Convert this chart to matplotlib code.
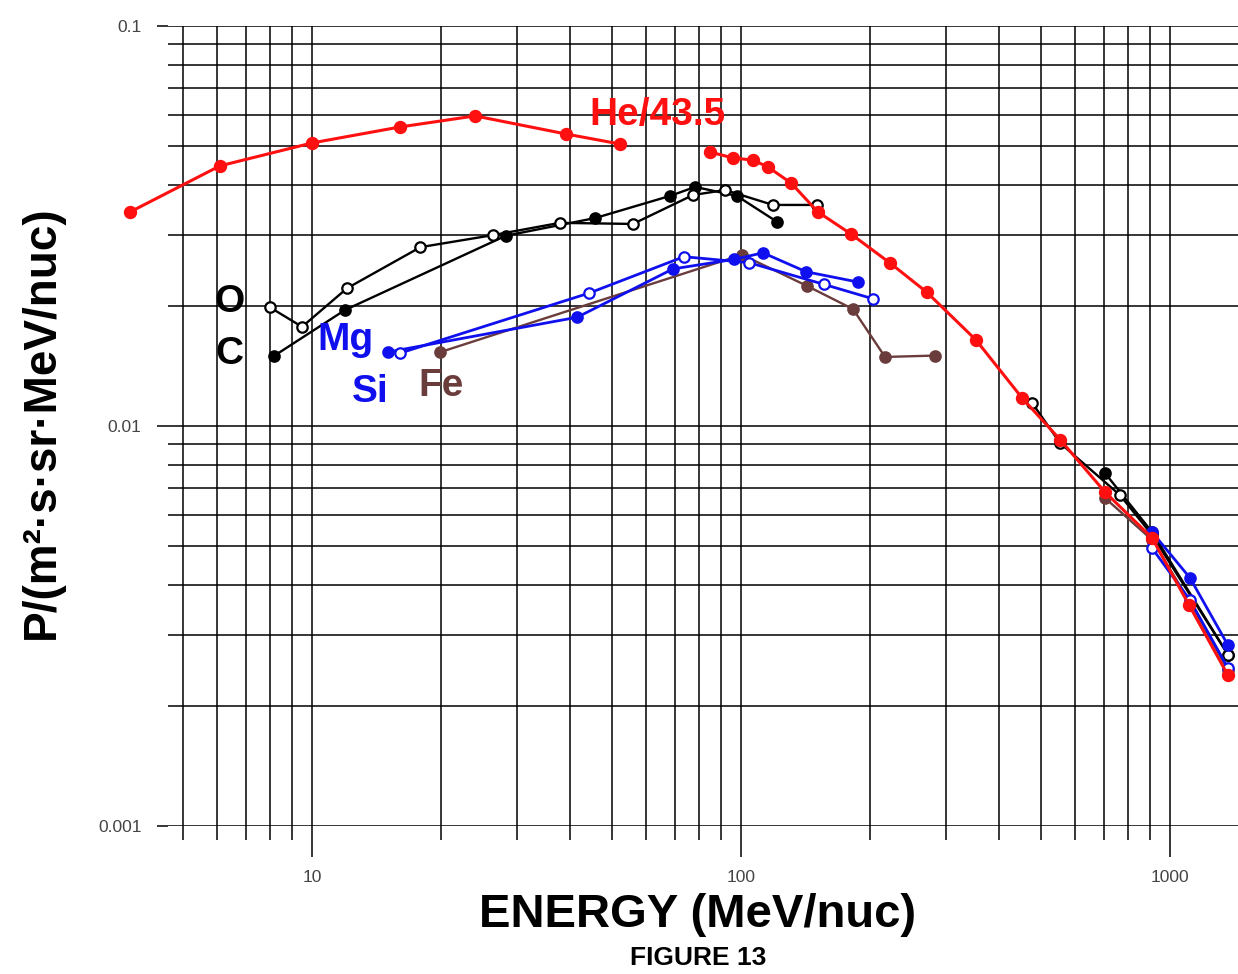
import matplotlib
matplotlib.use("Agg")
import matplotlib.pyplot as plt
from matplotlib.ticker import LogLocator, NullFormatter, FixedLocator, FixedFormatter

plt.rcParams['font.family'] = ['Liberation Sans', 'DejaVu Sans']

# He/43.5 (two segments)
he_lo_e = [3.77, 6.1, 10.0, 16.0, 24.0, 39.1, 52.2]
he_lo_p = [0.0343, 0.0447, 0.0510, 0.0559, 0.0596, 0.0537, 0.0507]
he_hi_e = [84.7, 95.7, 106.7, 115.6, 130.8, 151, 180.4, 222, 271, 353, 452, 555, 705, 908, 1107, 1365]
he_hi_p = [0.0484, 0.0468, 0.0462, 0.0444, 0.0405, 0.0343, 0.0302, 0.0256, 0.0216, 0.0164,
           0.01175, 0.00923, 0.00684, 0.00525, 0.00357, 0.00238]

# C (filled) and O (open)
c_lo_e = [8.15, 11.94, 28.3, 45.7, 68.3, 78.2, 97.8, 121.3]
c_lo_p = [0.01496, 0.0195, 0.0299, 0.0331, 0.0376, 0.0396, 0.0376, 0.0324]
c_hi_e = [705, 908, 1365]
c_hi_p = [0.00763, 0.00543, 0.00268]
o_lo_e = [7.98, 9.48, 12.07, 17.9, 26.4, 37.8, 56.0, 77.3, 91.8, 118.7, 150.3]
o_lo_p = [0.0198, 0.0177, 0.0221, 0.0280, 0.0300, 0.0322, 0.0320, 0.0378, 0.0389, 0.0357, 0.0357]
o_hi_e = [477, 554, 764, 908, 1365]
o_hi_p = [0.01142, 0.00907, 0.00672, 0.00534, 0.00268]

# Mg (filled), Si (open)
mg_lo_e = [15.0, 41.5, 69.4, 96.4, 112.5, 141.8, 187.5]
mg_lo_p = [0.0153, 0.0187, 0.0247, 0.0261, 0.0271, 0.0243, 0.0229]
mg_hi_e = [908, 1113, 1365]
mg_hi_p = [0.00543, 0.00417, 0.00283]
si_lo_e = [16.0, 44.3, 73.6, 104.5, 156, 203]
si_lo_p = [0.0152, 0.0215, 0.0265, 0.0256, 0.0226, 0.0208]
si_hi_e = [908, 1113, 1365]
si_hi_p = [0.00495, 0.00367, 0.00248]

# Fe
fe_lo_e = [19.9, 100.5, 142.5, 182.4, 216.6, 283]
fe_lo_p = [0.0153, 0.0268, 0.0224, 0.0196, 0.01488, 0.0150]
fe_hi_e = [705, 908, 1113, 1365]
fe_hi_p = [0.00661, 0.00519, 0.00363, 0.00245]

brown = '#6b3c3c'

fig = plt.figure(figsize=(12.38, 9.74), dpi=100)
ax = fig.add_axes([168 / 1238, 1 - 826 / 974, 1 - 168 / 1238, (826 - 26) / 974])
ax.set_xscale('log')
ax.set_yscale('log')
ax.set_xlim(4.617, 1440)
ax.set_ylim(0.001, 0.1)

for s in ax.spines.values():
    s.set_visible(False)

ax.grid(True, which='both', color='black', linewidth=1.1)
ax.set_axisbelow(True)

ax.xaxis.set_major_locator(FixedLocator([10, 100, 1000]))
ax.xaxis.set_major_formatter(FixedFormatter(['10', '100', '1000']))
ax.xaxis.set_minor_locator(LogLocator(base=10, subs=range(2, 10), numticks=20))
ax.xaxis.set_minor_formatter(NullFormatter())
ax.yaxis.set_major_locator(FixedLocator([0.001, 0.01, 0.1]))
ax.yaxis.set_major_formatter(FixedFormatter(['0.001', '0.01', '0.1']))
ax.yaxis.set_minor_locator(LogLocator(base=10, subs=range(2, 10), numticks=20))
ax.yaxis.set_minor_formatter(NullFormatter())

ax.tick_params(axis='x', which='major', length=22, width=1.1, direction='out', pad=10,
               labelsize=12.5, labelcolor='#444444')
ax.tick_params(axis='x', which='minor', length=10, width=1.1, direction='out')
ax.tick_params(axis='y', which='major', length=8, width=1.1, direction='out', pad=11,
               labelsize=12.5, labelcolor='#444444')
ax.tick_params(axis='y', which='minor', length=0)


def series(e, p, color, filled, lw=1.7, ms=7.5):
    ax.plot(e, p, '-o', color=color, lw=lw, ms=ms, mec=color,
            mfc=color if filled else 'white', mew=1.6, clip_on=False, zorder=3)


series(c_lo_e, c_lo_p, 'black', True)
series(c_hi_e, c_hi_p, 'black', True)
series(o_lo_e, o_lo_p, 'black', False)
series(o_hi_e, o_hi_p, 'black', False)
series(fe_lo_e, fe_lo_p, brown, True)
series(fe_hi_e, fe_hi_p, brown, True)
series(mg_lo_e, mg_lo_p, '#1010ee', True, lw=2)
series(mg_hi_e, mg_hi_p, '#1010ee', True, lw=2)
series(si_lo_e, si_lo_p, '#1010ee', False, lw=2)
series(si_hi_e, si_hi_p, '#1010ee', False, lw=2)
series(he_lo_e, he_lo_p, '#ff1010', True, lw=2.2, ms=8)
series(he_hi_e, he_hi_p, '#ff1010', True, lw=2.2, ms=8)

# series labels
lab = dict(fontsize=28, fontweight='bold', ha='center', va='center', transform=fig.transFigure)
fig.text(658 / 1238, 1 - 115 / 974, 'He/43.5', color='#ff1010', **lab)
fig.text(229 / 1238, 1 - 302 / 974, 'O', color='black', **lab)
fig.text(229 / 1238, 1 - 354 / 974, 'C', color='black', **lab)
fig.text(345 / 1238, 1 - 340 / 974, 'Mg', color='#1010ee', **lab)
fig.text(370 / 1238, 1 - 392 / 974, 'Si', color='#1010ee', **lab)
fig.text(441 / 1238, 1 - 386 / 974, 'Fe', color=brown, **lab)

fig.text(698 / 1238, 1 - 915 / 974, 'ENERGY (MeV/nuc)', fontsize=34, fontweight='bold',
         ha='center', va='center')
fig.text(698 / 1238, 1 - 958 / 974, 'FIGURE 13', fontsize=19, fontweight='bold',
         ha='center', va='center')
fig.text(42 / 1238, 1 - 422 / 974, 'P/(m²·s·sr·MeV/nuc)', fontsize=33, fontweight='bold',
         ha='center', va='center', rotation=90)

fig.savefig('out.png', dpi=100)
